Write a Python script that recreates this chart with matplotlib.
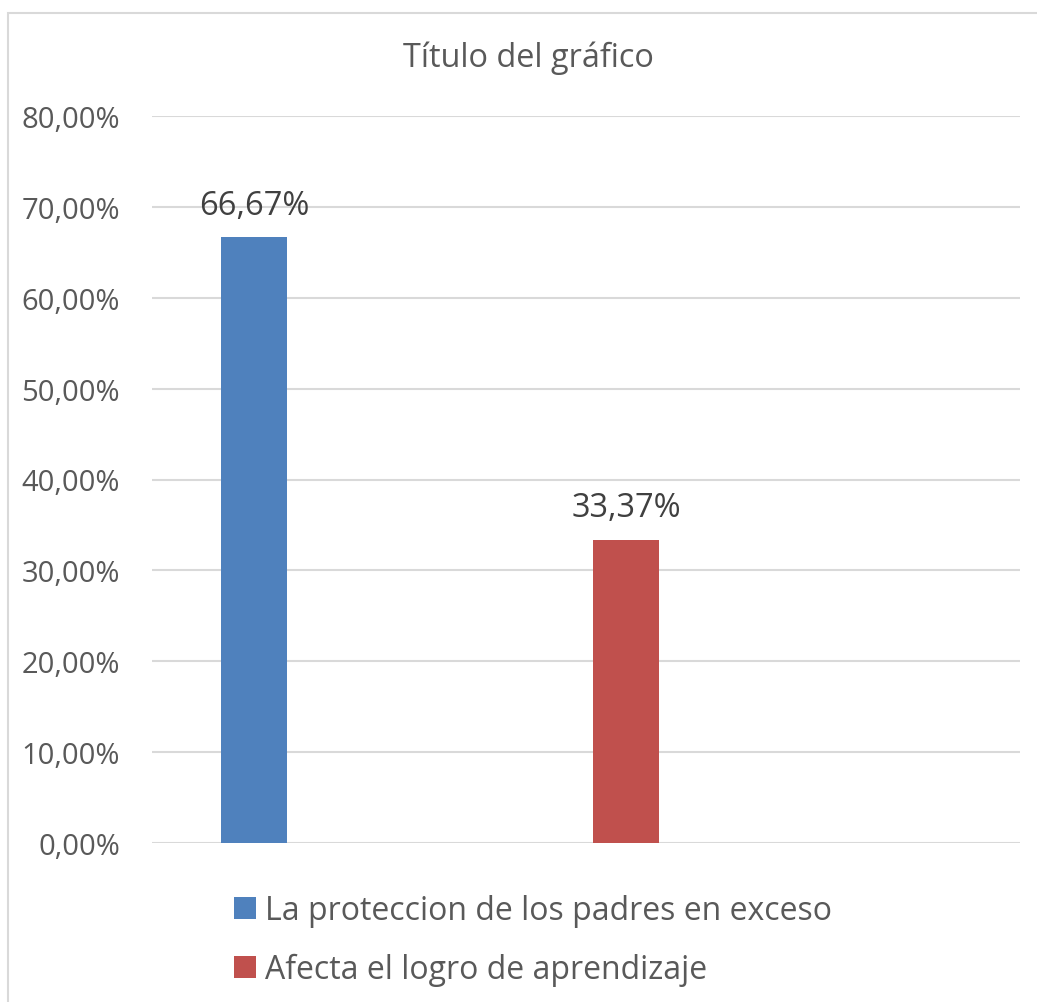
import matplotlib
matplotlib.use("Agg")
import matplotlib.pyplot as plt
from matplotlib.patches import Rectangle, Patch
from matplotlib.ticker import FuncFormatter

series = ["La proteccion de los padres en exceso", "Afecta el logro de aprendizaje"]
values = [0.6667, 0.3337]
labels = ["66,67%", "33,37%"]
colors = ["#4f81bd", "#c0504d"]
yticks = [0, 0.1, 0.2, 0.3, 0.4, 0.5, 0.6, 0.7, 0.8]

W, H = 1037, 1003
fig = plt.figure(figsize=(W / 100, H / 100), dpi=100)
plt.rcParams['font.family'] = ['Open Sans', 'DejaVu Sans']
txt = "#595959"

# outer chart border
fig.patches.append(Rectangle((8 / W, -0.1), 1.2, (H - 14) / H + 0.1, transform=fig.transFigure,
                             fill=False, edgecolor="#d9d9d9", linewidth=1.5))

ax = fig.add_axes([152 / W, (H - 844) / H, (1020 - 152) / W, (844 - 117) / H])
xs = [0, 1]
ax.bar(xs, values, width=0.177, color=colors, zorder=3)
ax.set_xlim(-0.274, 2.059)
ax.set_ylim(0, 0.8)
ax.set_yticks(yticks)
ax.yaxis.set_major_formatter(FuncFormatter(lambda v, p: f"{v*100:.2f}%".replace(".", ",")))
ax.tick_params(axis='y', length=0, pad=23, labelsize=21, labelcolor=txt)
ax.set_xticks([])
for s in ax.spines.values():
    s.set_visible(False)
ax.grid(axis='y', color="#d9d9d9", linewidth=1.5, zorder=0)

for x, v, l in zip(xs, values, labels):
    ax.annotate(l, (x, v), xytext=(0, 11), textcoords='offset points', ha='center', va='bottom',
                fontsize=23.5, color="#404040")

fig.text(528 / W, 1 - 58 / H, "Título del gráfico", ha='center', va='center', fontsize=23.4, color=txt)

handles = [Patch(facecolor=c) for c in colors]
fig.legend(handles, series, loc='upper left', bbox_to_anchor=(218 / W, 1 - 879 / H), frameon=False,
           fontsize=23, labelcolor=txt, handlelength=0.68, handleheight=0.68, handletextpad=0.3,
           labelspacing=0.82, borderpad=0)

fig.savefig("out.png", dpi=100)
